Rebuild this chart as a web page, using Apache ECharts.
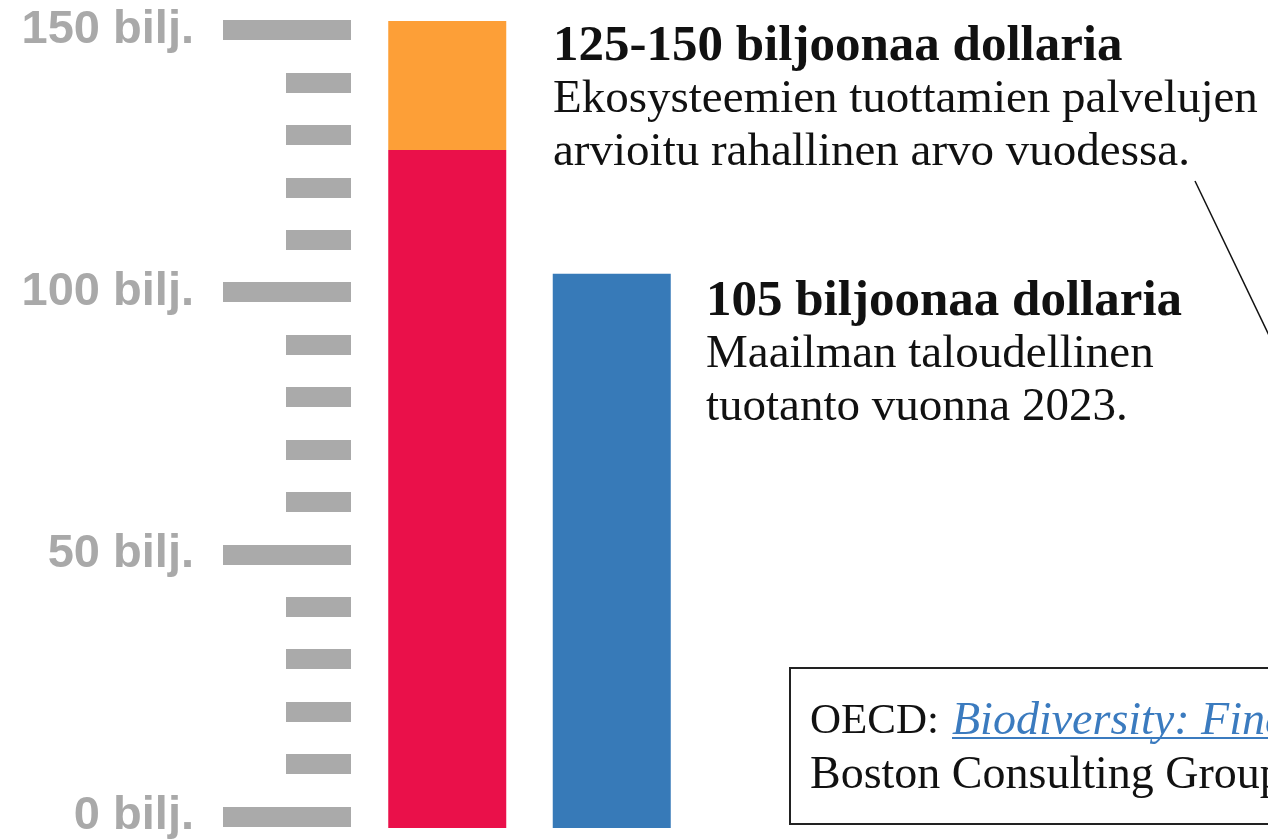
<!DOCTYPE html>
<html>
<head>
<meta charset="utf-8">
<script src="https://cdn.jsdelivr.net/npm/echarts@6/dist/echarts.min.js"></script>
<style>
  html, body { margin: 0; padding: 0; background: #fff; }
  #main { width: 1268px; height: 840px; }
</style>
</head>
<body>
<div id="main"></div>
<script>
// data (biljoonaa dollaria)
const categories = ['Ekosysteemipalvelut', 'Maailmantalous'];
const baseValues = [126, 103];     // punainen / sininen
const rangeValues = [24, '-'];     // oranssi lisäosa 125 -> 150
const tickValues = [0, 50, 100, 150];
const tickSuffix = ' bilj.';

const serif = '"Liberation Serif", "DejaVu Serif", serif';

var myChart = echarts.init(document.getElementById('main'));

option = {
    animation: false,
    grid: [
        // pylväät
        { left: 365, width: 329, top: 21, bottom: 12 },
        // asteikko
        { left: 351, width: 10, top: 30, bottom: 22 }
    ],
    xAxis: [
        { type: 'category', gridIndex: 0, data: categories, show: false },
        { type: 'value', gridIndex: 1, show: false }
    ],
    yAxis: [
        { type: 'value', gridIndex: 0, min: 0, max: 150, show: false },
        {
            type: 'value',
            gridIndex: 1,
            min: tickValues[0],
            max: tickValues[tickValues.length - 1],
            interval: 50,
            axisLine: { show: false },
            splitLine: { show: false },
            axisTick: {
                show: true,
                length: 128,
                lineStyle: { color: '#aaaaaa', width: 20 }
            },
            minorTick: {
                show: true,
                splitNumber: 5,
                length: 65,
                lineStyle: { color: '#aaaaaa', width: 20 }
            },
            axisLabel: {
                margin: 157,
                color: '#a9a9a9',
                fontFamily: '"Liberation Sans", Arial, sans-serif',
                fontWeight: 'bold',
                fontSize: 47,
                formatter: function (v) {
                    return v + tickSuffix;
                }
            }
        }
    ],
    series: [{
            type: 'bar',
            stack: 'arvo',
            barWidth: 118,
            xAxisIndex: 0,
            yAxisIndex: 0,
            data: [
                { value: baseValues[0], itemStyle: { color: '#ea104a' } },
                { value: baseValues[1], itemStyle: { color: '#377ab8' } }
            ]
        },
        {
            type: 'bar',
            stack: 'arvo',
            barWidth: 118,
            xAxisIndex: 0,
            yAxisIndex: 0,
            itemStyle: { color: '#fd9f37' },
            data: rangeValues
        }
    ],
    graphic: [
        // ylempi selite
        { type: 'text', style: { x: 553, y: 47, text: '125-150 biljoonaa dollaria', font: 'bold 51px ' + serif, fill: '#111', verticalAlign: 'middle' } },
        { type: 'text', style: { x: 553, y: 100, text: 'Ekosysteemien tuottamien palvelujen', font: '47px ' + serif, fill: '#111', verticalAlign: 'middle' } },
        { type: 'text', style: { x: 553, y: 153, text: 'arvioitu rahallinen arvo vuodessa.', font: '47px ' + serif, fill: '#111', verticalAlign: 'middle' } },
        // alempi selite
        { type: 'text', style: { x: 706, y: 302, text: '105 biljoonaa dollaria', font: 'bold 51px ' + serif, fill: '#111', verticalAlign: 'middle' } },
        { type: 'text', style: { x: 706, y: 355, text: 'Maailman taloudellinen', font: '47px ' + serif, fill: '#111', verticalAlign: 'middle' } },
        { type: 'text', style: { x: 706, y: 408, text: 'tuotanto vuonna 2023.', font: '47px ' + serif, fill: '#111', verticalAlign: 'middle' } },
        // viiva
        { type: 'line', shape: { x1: 1195, y1: 181, x2: 1300, y2: 400 }, style: { stroke: '#111', lineWidth: 1.5 } },
        // lähdelaatikko
        { type: 'rect', shape: { x: 790, y: 668, width: 600, height: 156 }, style: { fill: 'none', stroke: '#222', lineWidth: 2 } },
        { type: 'text', style: { x: 810, y: 722, text: 'OECD:', font: '43px ' + serif, fill: '#111', verticalAlign: 'middle' } },
        { type: 'text', style: { x: 952, y: 722, text: 'Biodiversity: Finance and the Economic and Business Case for Action', font: 'italic 46px ' + serif, fill: '#3b7bbf', verticalAlign: 'middle' } },
        { type: 'line', shape: { x1: 952, y1: 738, x2: 1300, y2: 738 }, style: { stroke: '#3b7bbf', lineWidth: 2 } },
        { type: 'text', style: { x: 810, y: 776, text: 'Boston Consulting Group: The Biodiversity Crisis Is a Business Crisis', font: '46px ' + serif, fill: '#111', verticalAlign: 'middle' } }
    ]
};

myChart.setOption(option);
</script>
</body>
</html>
